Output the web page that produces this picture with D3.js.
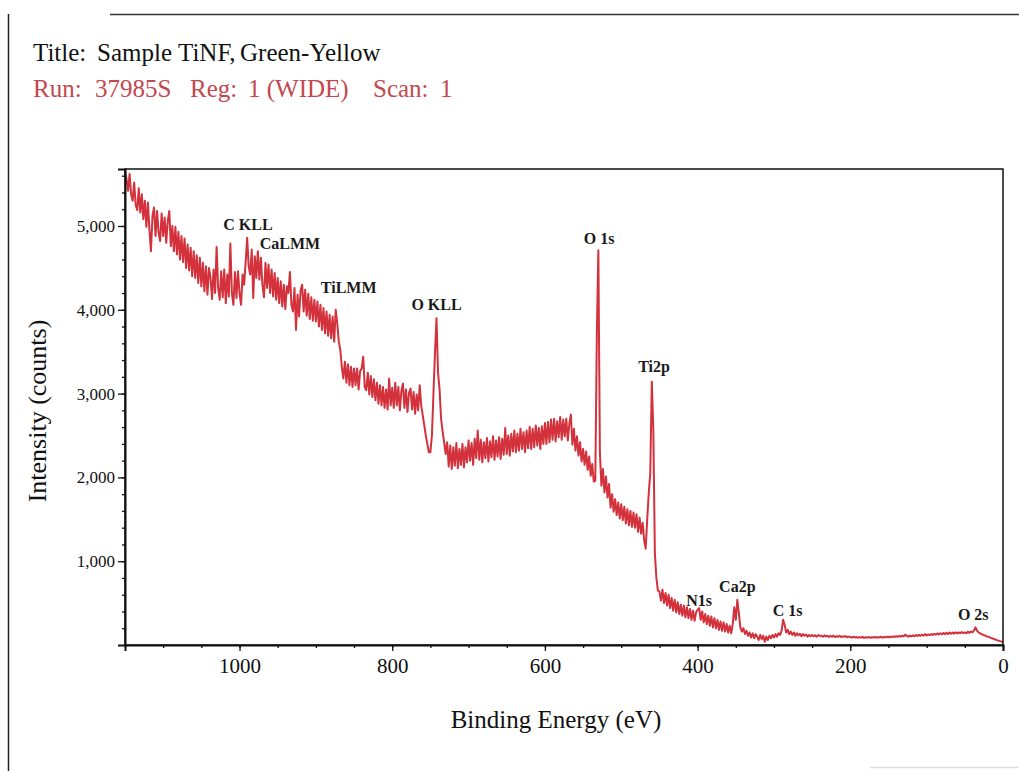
<!DOCTYPE html>
<html>
<head>
<meta charset="utf-8">
<script src="https://cdn.jsdelivr.net/npm/d3@7"></script>
<style>
  html, body { margin: 0; padding: 0; background: #fff; }
  svg { display: block; }
</style>
</head>
<body>
<svg id="chart" width="1019" height="771"></svg>
<script>
// XPS wide scan, binding energy from 1150 eV down to 0 eV in 2 eV channels
const energyStart = 1150;
const energyStep = 2;

const intensity = [
  // 1150 - 1102
  5650, 5560, 5420, 5620, 5380, 5300, 5520, 5250, 5190, 5450, 5160, 5380, 5080, 5300, 4990, 5280, 4960, 4700, 5120, 5220, 4880, 5180, 4920, 4820, 5150,
  // 1100 - 1052
  4880, 5100, 4800, 5060, 5180, 4760, 5000, 4700, 4990, 4660, 4930, 4600, 4880, 4570, 4850, 4500, 4780, 4470, 4740, 4400, 4700, 4380, 4650, 4320, 4620,
  // 1050 - 1002
  4280, 4560, 4220, 4520, 4180, 4500, 4380, 4130, 4480, 4200, 4750, 4260, 4120, 4460, 4150, 4480, 4080, 4420, 4160, 4790, 4200, 4060, 4450, 4140, 4460,
  // 1000 - 952
  4200, 4060, 4420, 4300, 4560, 4860, 4520, 4420, 4720, 4140, 4640, 4380, 4700, 4360, 4620, 4300, 4150, 4560, 4260, 4540, 4200, 4480, 4160, 4440, 4120,
  // 950 - 902
  4380, 4080, 4340, 4040, 4300, 4010, 4280, 4200, 4450, 4060, 3980, 4260, 3760, 4180, 3920, 4230, 4300, 3980, 4240, 3930, 4190, 3890, 4150, 3870, 4120,
  // 900 - 852
  3860, 4100, 3800, 4060, 3760, 4020, 3720, 3980, 3690, 3940, 3660, 3920, 3620, 4000, 3840, 3620, 3520, 3320, 3180, 3380, 3130, 3350, 3100, 3320, 3080,
  // 850 - 802
  3300, 3100, 3300, 3050, 3270, 3300, 3440, 3080, 3040, 3250, 2990, 3210, 2960, 3170, 2920, 3130, 2880, 3100, 2860, 3080, 2830, 3050, 2810, 3180, 2860,
  // 800 - 752
  3070, 2830, 3130, 2860, 3080, 2800, 3030, 3120, 2830, 3050, 2780, 3010, 3060, 2810, 3020, 2760, 2990, 2800, 3100, 2860, 2740, 2620, 2500, 2400, 2300,
  // 750 - 702
  2300, 2500, 3000, 3480, 3900, 3250, 3050, 2700, 2550, 2420, 2280, 2420, 2130, 2380, 2100, 2360, 2140, 2410, 2110, 2340, 2150, 2400, 2120, 2360, 2180,
  // 700 - 652
  2440, 2200, 2410, 2150, 2460, 2230, 2560, 2210, 2450, 2180, 2420, 2230, 2470, 2190, 2430, 2240, 2490, 2210, 2440, 2250, 2480, 2220, 2460, 2270, 2590,
  // 650 - 602
  2280, 2500, 2260, 2520, 2310, 2560, 2300, 2520, 2320, 2580, 2340, 2540, 2300, 2560, 2350, 2600, 2340, 2580, 2360, 2620, 2380, 2590, 2340, 2610, 2400,
  // 600 - 552
  2650, 2400, 2660, 2420, 2690, 2450, 2700, 2430, 2670, 2480, 2720, 2450, 2690, 2490, 2700, 2440, 2640, 2750, 2390, 2580, 2320, 2490, 2260, 2420, 2190,
  // 550 - 502
  2340, 2150, 2310, 2090, 2250, 2020, 2160, 1950, 1960, 3700, 4710, 2300, 1900, 2100, 1820, 2010, 1760, 1920, 1640, 1800, 1590, 1740, 1550, 1700, 1510,
  // 500 - 452
  1680, 1490, 1650, 1450, 1620, 1430, 1600, 1410, 1580, 1400, 1560, 1350, 1520, 1330, 1460, 1250, 1150, 1500, 1810, 2050, 3140, 2570, 1100, 800, 650,
  // 450 - 402
  640, 530, 660, 500, 620, 470, 600, 440, 560, 410, 540, 390, 510, 370, 480, 350, 470, 330, 450, 320, 430, 300, 410, 290, 390,
  // 400 - 352
  420, 440, 300, 400, 270, 370, 250, 350, 230, 340, 210, 320, 200, 300, 180, 280, 170, 270, 160, 250, 150, 230, 140, 250, 450,
  // 350 - 302
  300, 540, 380, 210, 160, 200, 130, 170, 110, 150, 90, 140, 80, 130, 100, 60, 120, 70, 110, 40, 100, 60, 110, 80, 120,
  // 300 - 252
  90, 130, 100, 140, 120, 170, 300, 240, 150, 180, 130, 160, 120, 150, 110, 140, 115, 135, 105, 130, 110, 125, 100, 120, 105,
  // 250 - 202
  120, 105, 115, 100, 118, 108, 112, 98, 115, 104, 110, 96, 108, 100, 112, 95, 105, 98, 110, 94, 104, 97, 106, 92, 100,
  // 200 - 152
  96, 88, 98, 90, 95, 86, 94, 88, 97, 85, 92, 88, 95, 86, 93, 89, 96, 87, 94, 90, 98, 88, 95, 91, 99,
  // 150 - 102
  92, 100, 94, 103, 96, 105, 98, 108, 100, 110, 102, 125, 108, 100, 112, 104, 115, 106, 118, 108, 120, 110, 122, 112, 130,
  // 100 - 52
  115, 125, 118, 130, 120, 134, 122, 138, 125, 140, 128, 142, 130, 145, 132, 148, 134, 150, 136, 152, 138, 150, 140, 155, 142,
  // 50 - 2
  150, 140, 158, 145, 160, 150, 175, 210, 170, 150, 140, 130, 120, 115, 105, 100, 95, 85, 80, 72, 65, 58, 52, 46, 40,
  // 0
  35
];

const xTicks = [1000, 800, 600, 400, 200, 0];
const yTicks = [1000, 2000, 3000, 4000, 5000];

// Peak assignments: label text, energy (eV) and intensity level of the label baseline
const peakNames  = ["C KLL", "CaLMM", "TiLMM", "O KLL", "O 1s", "Ti2p", "N1s", "Ca2p", "C 1s", "O 2s"];
const peakEnergy = [989, 934, 857, 742, 529, 457, 398, 348, 282, 39];
const peakLabelY = [4950, 4725, 4200, 3995, 4785, 3255, 465, 630, 345, 298];

const titleWords = ["Title:", "Sample", "TiNF,", "Green-Yellow"];
const runWords   = ["Run:", "37985S", "Reg:", "1 (WIDE)", "Scan:", "1"];

// ---------------------------------------------------------------
const svg = d3.select("#chart");
const serif = "'Liberation Serif', 'Times New Roman', serif";

const plot = { left: 125, right: 1003, top: 169, bottom: 645 };

const x = d3.scaleLinear().domain([1150, 0]).range([plot.left, plot.right]);
const y = d3.scaleLinear().domain([0, 5680]).range([plot.bottom, plot.top]);

// page frame
svg.append("line").attr("x1", 110).attr("x2", 1019).attr("y1", 14.5).attr("y2", 14.5)
  .attr("stroke", "#333").attr("stroke-width", 1.5);
svg.append("line").attr("x1", 8.5).attr("x2", 8.5).attr("y1", 14).attr("y2", 771)
  .attr("stroke", "#222").attr("stroke-width", 1.5);
svg.append("line").attr("x1", 870).attr("x2", 1019).attr("y1", 767.5).attr("y2", 767.5)
  .attr("stroke", "#ddd").attr("stroke-width", 1.5);

// header text
const titlePos = [33, 97, 178, 240];
svg.append("g").selectAll("text").data(titleWords).join("text")
  .attr("x", (d, i) => titlePos[i]).attr("y", 61)
  .attr("font-family", serif).attr("font-size", 25).attr("fill", "#111")
  .text(d => d);

const runPos = [33, 95, 190, 248, 373, 440];
svg.append("g").selectAll("text").data(runWords).join("text")
  .attr("x", (d, i) => runPos[i]).attr("y", 97)
  .attr("font-family", serif).attr("font-size", 25).attr("fill", "#c4474f")
  .text(d => d);

// spectrum
const spectrum = intensity.map((v, i) => ({ e: energyStart - i * energyStep, v }));
const line = d3.line().x(d => x(d.e)).y(d => y(d.v));

svg.append("path").datum(spectrum)
  .attr("d", line)
  .attr("fill", "none")
  .attr("stroke", "#d3323c")
  .attr("stroke-width", 2)
  .attr("stroke-linejoin", "round");

// plot frame
svg.append("rect")
  .attr("x", plot.left).attr("y", plot.top)
  .attr("width", plot.right - plot.left).attr("height", plot.bottom - plot.top)
  .attr("fill", "none").attr("stroke", "#111").attr("stroke-width", 1.5);

// x axis
const xAxis = svg.append("g").attr("transform", `translate(0,${plot.bottom})`);
xAxis.call(d3.axisBottom(x).tickValues(d3.range(0, 1151, 50)).tickSize(3).tickFormat(""))
  .call(g => g.select(".domain").remove())
  .call(g => g.selectAll("line").attr("stroke", "#111").attr("stroke-width", 1.3));
const xMajor = svg.append("g").attr("transform", `translate(0,${plot.bottom})`)
  .call(d3.axisBottom(x).tickValues(xTicks).tickSize(6).tickPadding(7).tickFormat(d3.format("d")));
xMajor.select(".domain").attr("stroke", "#111").attr("stroke-width", 2);
xMajor.selectAll("line").attr("stroke", "#111").attr("stroke-width", 1.3);
xMajor.selectAll("text")
  .attr("font-family", serif)
  .attr("font-size", 21).attr("fill", "#111");

// y axis
svg.append("g").attr("transform", `translate(${plot.left},0)`)
  .call(d3.axisLeft(y).tickValues(d3.range(200, 5601, 200)).tickSize(3).tickFormat(""))
  .call(g => g.select(".domain").remove())
  .call(g => g.selectAll("line").attr("stroke", "#111").attr("stroke-width", 1.3));
const yMajor = svg.append("g").attr("transform", `translate(${plot.left},0)`)
  .call(d3.axisLeft(y).tickValues(yTicks).tickSize(7).tickPadding(3).tickFormat(d3.format(",")));
yMajor.select(".domain").attr("stroke", "#111").attr("stroke-width", 2);
yMajor.selectAll("line").attr("stroke", "#111").attr("stroke-width", 1.3);
yMajor.selectAll("text")
  .attr("font-family", serif).attr("font-size", 17).attr("fill", "#111");

// axis titles
svg.append("text")
  .attr("x", 556).attr("y", 728).attr("text-anchor", "middle")
  .attr("font-family", serif).attr("font-size", 25).attr("fill", "#111")
  .text("Binding Energy (eV)");

svg.append("text")
  .attr("transform", "translate(46,411) rotate(-90)")
  .attr("text-anchor", "middle")
  .attr("font-family", serif).attr("font-size", 26).attr("fill", "#111")
  .text("Intensity (counts)");

// peak labels
svg.append("g").selectAll("text").data(peakNames).join("text")
  .attr("x", (d, i) => x(peakEnergy[i]))
  .attr("y", (d, i) => y(peakLabelY[i]))
  .attr("text-anchor", "middle")
  .attr("font-family", serif).attr("font-size", 16).attr("font-weight", "bold")
  .attr("fill", "#1a1a1a")
  .text(d => d);
</script>
</body>
</html>
